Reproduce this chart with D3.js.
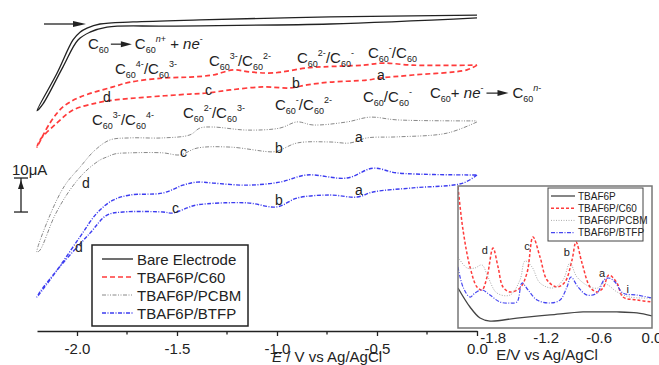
<!DOCTYPE html>
<html>
<head>
<meta charset="utf-8">
<script src="https://cdn.jsdelivr.net/npm/d3@7"></script>
<style>
body{margin:0;background:#fff;}
svg{display:block;font-family:Arial,"Liberation Sans",sans-serif;}
</style>
</head>
<body>
<svg width="659" height="365"></svg>
<script>
// cyclic voltammograms, [E (V vs Ag/AgCl), I (uA, curves stacked with offsets)]
var bareLoop = [[0,91.8],[-0.735,90.0],[-1.55,89.4],[-1.85,89.1],[-1.935,87.6],[-1.995,85.3],[-2.07,77.4],[-2.17,66.5],
  [-2.2,64.5],[-2.1,75.5],[-2.02,85.3],[-1.985,87.6],[-1.95,88.8],[-1.885,90.0],[-1.72,90.6],[-1.385,91.2],[-0.735,92.1],[0,92.6]];
var c60Loop = [[0,77.9],[-0.05,76.5],[-0.32,75.0],[-0.485,74.1],[-0.55,73.5],[-0.735,72.9],[-0.85,72.1],[-0.935,71.2],
  [-1.07,71.5],[-1.235,70.6],[-1.35,69.7],[-1.435,69.4],[-1.65,68.5],[-1.82,67.6],[-1.9,66.8],[-2.02,64.7],[-2.1,60.9],[-2.185,55.9],
  [-2.2,53.8],[-2.135,60.9],[-2.07,65.6],[-1.985,68.5],[-1.82,71.5],[-1.735,72.9],[-1.57,74.1],[-1.435,74.4],[-1.32,75.0],
  [-1.22,76.5],[-1.135,75.9],[-1.02,75.6],[-0.85,77.1],[-0.77,77.4],[-0.57,77.9],[-0.47,78.5],[-0.32,77.9],[0,77.9]];
var pcbmLoop = [[0,61.2],[-0.15,57.9],[-0.4,56.8],[-0.55,56.5],[-0.635,55.0],[-0.735,55.3],[-0.9,55.0],[-0.985,52.9],
  [-1.02,52.4],[-1.235,53.8],[-1.4,53.5],[-1.485,51.5],[-1.57,52.1],[-1.735,52.1],[-1.81,51.8],[-1.85,50.9],[-1.885,50.0],
  [-1.96,46.5],[-2.035,41.2],[-2.11,33.8],[-2.185,23.5],
  [-2.2,22.9],[-2.135,33.8],[-2.06,42.6],[-1.985,47.9],[-1.91,52.9],[-1.835,55.9],[-1.735,56.5],[-1.57,56.5],[-1.435,57.4],
  [-1.385,59.4],[-1.32,59.7],[-1.15,58.8],[-0.985,59.4],[-0.9,61.2],[-0.82,60.3],[-0.65,61.2],[-0.535,62.6],[-0.4,61.8],[0,61.5]];
var btfpLoop = [[0,45.6],[-0.07,43.2],[-0.32,41.8],[-0.52,40.6],[-0.6,39.1],[-0.735,39.7],[-0.9,38.8],[-1.0,36.2],
  [-1.15,37.4],[-1.4,36.8],[-1.45,35.9],[-1.52,34.4],[-1.57,34.7],[-1.77,34.7],[-1.85,33.8],[-1.935,28.5],[-2.07,19.7],[-2.185,11.2],
  [-2.2,9.7],[-2.1,17.6],[-1.985,27.4],[-1.9,34.4],[-1.82,38.2],[-1.735,39.7],[-1.57,40.3],[-1.47,42.6],[-1.4,43.5],[-1.32,43.2],
  [-1.15,42.6],[-0.985,43.5],[-0.85,45.6],[-0.65,44.7],[-0.52,47.6],[-0.4,46.2],[0,45.6]];

// inset DPV, [E, current (arb.)]
var dpvBare = [[-2.2,28.2],[-2.064,14.8],[-1.95,7.0],[-1.837,4.9],[-1.531,7.0],[-1.157,9.2],[-0.782,11.3],[-0.59,11.3],[-0.397,11.3],[-0.17,10.6],[0,8.5]];
var dpvC60 = [[-2.2,99.3],[-2.143,69.0],[-2.064,43.0],[-1.985,28.9],[-1.928,26.8],[-1.871,35.9],[-1.803,56.3],[-1.746,43.0],[-1.69,28.9],
  [-1.61,25.4],[-1.497,28.2],[-1.418,38.7],[-1.35,64.1],[-1.27,50.0],[-1.19,33.8],[-1.077,28.9],[-0.987,32.4],[-0.907,47.9],[-0.862,60.6],
  [-0.794,45.8],[-0.703,28.9],[-0.624,25.4],[-0.556,28.2],[-0.488,37.3],[-0.397,31.7],[-0.329,21.8],[-0.17,19.7],[0,18.3]];
var dpvPcbm = [[-2.2,50.0],[-2.098,42.3],[-2.007,42.3],[-1.928,44.4],[-1.86,35.9],[-1.758,24.6],[-1.61,23.2],[-1.497,33.8],[-1.44,47.2],
  [-1.361,43.0],[-1.27,31.7],[-1.123,28.2],[-1.009,33.8],[-0.93,45.8],[-0.851,35.9],[-0.703,28.9],[-0.612,28.2],[-0.556,31.7],[-0.499,30.3],
  [-0.397,25.4],[-0.25,21.8],[0,21.1]];
var dpvBtfp = [[-2.2,43.0],[-2.143,28.9],[-2.064,21.8],[-2.007,24.6],[-1.928,26.8],[-1.837,23.2],[-1.724,18.3],[-1.61,17.6],[-1.531,18.3],
  [-1.474,31.7],[-1.406,26.8],[-1.304,19.7],[-1.157,17.6],[-1.043,19.7],[-0.964,28.9],[-0.919,35.9],[-0.839,28.9],[-0.737,23.2],[-0.624,24.6],
  [-0.544,33.8],[-0.488,35.2],[-0.42,32.4],[-0.329,24.6],[-0.17,23.2],[0,21.1]];

var mainTicks = [-2.0, -1.5, -1.0, -0.5, 0.0];
var minorTicks = [-1.75, -1.25, -0.75, -0.25];
var insetTicks = [-1.8, -1.2, -0.6, 0.0];
var legendNames = ["Bare Electrode", "TBAF6P/C60", "TBAF6P/PCBM", "TBAF6P/BTFP"];
var insetNames = ["TBAF6P", "TBAF6P/C60", "TBAF6P/PCBM", "TBAF6P/BTFP"];

// peak letters: [letter, E, I]
var peakLetters = [["d",-1.87,67.1],["c",-1.36,69.1],["b",-0.925,71.2],["a",-0.5,73.5],
  ["d",-1.975,41.8],["c",-1.485,50.9],["b",-1.01,52.1],["a",-0.61,55.3],
  ["d",-2.01,22.9],["c",-1.525,34.4],["b",-1.01,36.8],["a",-0.61,39.7]];
var insetLetters = [["d",-1.93,52],["c",-1.45,55],["b",-1.0,51],["a",-0.6,36],["i",-0.29,25]];
var scaleBar = [34.7, 44.7];   // 10 uA

var ink = "#222";
var svg = d3.select("svg");

var x = d3.scaleLinear().domain([-2.2, 0]).range([37, 477]);
var y = d3.scaleLinear().domain([0, 100]).range([330, -10]);
var ix = d3.scaleLinear().domain([-2.2, 0]).range([458, 652]);
var iy = d3.scaleLinear().domain([0, 100]).range([328, 186]);

var styles = [
  {color: "#222", dash: null, w: 1.3},
  {color: "#ff3b3b", dash: "5,3", w: 1.7},
  {color: "#888", dash: "4,1.5,1,1.5,1,1.5", w: 1},
  {color: "#3c3cf0", dash: "4,1.5,1,1.5", w: 1.4}
];
var insetStyles = [
  {color: "#444", dash: null, w: 1.3},
  {color: "#ff3b3b", dash: "3,2", w: 1.5},
  {color: "#aaa", dash: "1,1.5", w: 1},
  {color: "#4646f0", dash: "4,1.5,1,1.5", w: 1.2}
];

var line = d3.line().x(function(d){ return x(d[0]); }).y(function(d){ return y(d[1]); })
  .curve(d3.curveCatmullRom.alpha(0.5));
var iline = d3.line().x(function(d){ return ix(d[0]); }).y(function(d){ return iy(d[1]); })
  .curve(d3.curveCatmullRom.alpha(0.5));

function stroke(sel, st) {
  sel.attr("fill", "none").attr("stroke", st.color).attr("stroke-width", st.w)
    .attr("stroke-dasharray", st.dash);
  return sel;
}

[bareLoop, c60Loop, pcbmLoop, btfpLoop].forEach(function(d, i){
  stroke(svg.append("path").attr("d", line(d)), styles[i]);
});

// x axis
var ax = svg.append("g").attr("transform", "translate(0,331)")
  .call(d3.axisBottom(x).tickValues(mainTicks).tickSize(5).tickSizeOuter(0)
    .tickFormat(function(d){ return d.toFixed(1); }));
ax.select(".domain").attr("stroke", ink).attr("stroke-width", 1.5);
ax.selectAll(".tick line").attr("stroke", ink).attr("stroke-width", 1.3);
ax.selectAll(".tick text").attr("font-size", 15).attr("fill", ink).attr("y", 12)
  .attr("font-family", "Arial, Liberation Sans, sans-serif");
ax.selectAll(".minor").data(minorTicks).enter().append("line")
  .attr("x1", function(d){ return x(d); }).attr("x2", function(d){ return x(d); })
  .attr("y1", 0).attr("y2", 3.5).attr("stroke", ink).attr("stroke-width", 1.3);

var xt = svg.append("text").attr("x", 272).attr("y", 362).attr("font-size", 15).attr("fill", ink);
xt.append("tspan").attr("font-style", "italic").text("E");
xt.append("tspan").text(" / V vs Ag/AgCl");

// top arrow
svg.append("line").attr("x1", 44).attr("x2", 76).attr("y1", 24).attr("y2", 24).attr("stroke", ink).attr("stroke-width", 1.3);
svg.append("path").attr("d", "M73,21L86,24L73,27Z").attr("fill", ink);

// scale bar
var sx = 21;
svg.append("line").attr("x1", sx).attr("x2", sx).attr("y1", y(scaleBar[1])).attr("y2", y(scaleBar[0]))
  .attr("stroke", ink).attr("stroke-width", 1.3);
svg.append("line").attr("x1", sx - 7).attr("x2", sx + 7).attr("y1", y(scaleBar[1])).attr("y2", y(scaleBar[1]))
  .attr("stroke", ink).attr("stroke-width", 1.3);
svg.append("line").attr("x1", sx - 7).attr("x2", sx + 7).attr("y1", y(scaleBar[0])).attr("y2", y(scaleBar[0]))
  .attr("stroke", ink).attr("stroke-width", 1.3);
svg.append("path").attr("d", "M" + (sx - 3) + "," + (y(scaleBar[1]) + 11) + "L" + sx + "," + (y(scaleBar[1]) + 2) +
  "L" + (sx + 3) + "," + (y(scaleBar[1]) + 11) + "Z").attr("fill", ink);
svg.append("text").attr("x", 12).attr("y", 175).attr("font-size", 15).attr("fill", ink).text("10\u03bcA");

// chemistry labels
function chem(x0, y0, parts) {
  var t = svg.append("text").attr("x", x0).attr("y", y0).attr("font-size", 15).attr("fill", ink);
  var off = 0;
  parts.forEach(function(p){
    var kind = p[1] || "";
    var shift = kind.charAt(0) === "b" ? 4 : kind.charAt(0) === "p" ? -7 : 0;
    var s = t.append("tspan").attr("dy", shift - off).text(p[0]);
    if (shift !== 0) s.attr("font-size", 9);
    if (kind.indexOf("i") >= 0) s.attr("font-style", "italic");
    off = shift;
  });
  return x0 + t.node().getComputedTextLength();
}
function arrow(xa, xb, ya) {
  svg.append("line").attr("x1", xa).attr("x2", xb - 8).attr("y1", ya).attr("y2", ya).attr("stroke", ink).attr("stroke-width", 1.2);
  svg.append("path").attr("d", "M" + (xb - 11) + "," + (ya - 3) + "L" + xb + "," + ya + "L" + (xb - 11) + "," + (ya + 3) + "Z").attr("fill", ink);
}
var C = ["C"], S = ["60", "b"];

var e1 = chem(x(-1.945), y(82.6), [C, S]);
arrow(e1 + 2, e1 + 23, y(82.6) - 5);
chem(e1 + 26, y(82.6), [C, S, ["n", "pi"], ["+", "p"], ["\u00a0+ "], ["ne", "i"], ["-", "p"]]);

chem(x(-1.81), y(75.3), [C, S, ["4-", "p"], ["/"], C, S, ["3-", "p"]]);
chem(x(-1.34), y(77.6), [C, S, ["3-", "p"], ["/"], C, S, ["2-", "p"]]);
chem(x(-0.9), y(78.5), [C, S, ["2-", "p"], ["/"], C, S, ["-", "p"]]);
chem(x(-0.545), y(80.0), [C, S, ["-", "p"], ["/"], C, S]);
chem(x(-1.925), y(60.3), [C, S, ["3-", "p"], ["/"], C, S, ["4-", "p"]]);
chem(x(-1.47), y(62.4), [C, S, ["2-", "p"], ["/"], C, S, ["3-", "p"]]);
chem(x(-1.01), y(64.7), [C, S, ["-", "p"], ["/"], C, S, ["2-", "p"]]);
chem(x(-0.57), y(67.1), [C, S, ["/"], C, S, ["-", "p"]]);

var e2 = chem(x(-0.235), y(68.2), [C, S, ["+\u00a0"], ["ne", "i"], ["-", "p"]]);
arrow(e2 + 3, e2 + 25, y(68.2) - 5);
chem(e2 + 29, y(68.2), [C, S, ["n", "pi"], ["-", "p"]]);

svg.selectAll(".pk").data(peakLetters).enter().append("text")
  .attr("x", function(d){ return x(d[1]); }).attr("y", function(d){ return y(d[2]); })
  .attr("font-size", 14).attr("fill", ink).text(function(d){ return d[0]; });

// main legend
var lg = svg.append("g");
lg.append("rect").attr("x", 92).attr("y", 245).attr("width", 156).attr("height", 81)
  .attr("fill", "#fff").attr("stroke", ink).attr("stroke-width", 1.5);
legendNames.forEach(function(n, i){
  var yy = 259 + i * 18;
  stroke(lg.append("line").attr("x1", 102).attr("x2", 133).attr("y1", yy).attr("y2", yy), styles[i]);
  lg.append("text").attr("x", 137).attr("y", yy + 5.5).attr("font-size", 15).attr("fill", ink).text(n);
});

// inset
var ins = svg.append("g");
ins.append("rect").attr("x", 458).attr("y", 186).attr("width", 194).attr("height", 142).attr("fill", "#fff");
ins.append("clipPath").attr("id", "ic").append("rect").attr("x", 458).attr("y", 186).attr("width", 194).attr("height", 142);
var ic = ins.append("g").attr("clip-path", "url(#ic)");
[dpvBare, dpvC60, dpvPcbm, dpvBtfp].forEach(function(d, i){
  stroke(ic.append("path").attr("d", iline(d)), insetStyles[i]);
});
ins.append("rect").attr("x", 458).attr("y", 186).attr("width", 194).attr("height", 142)
  .attr("fill", "none").attr("stroke", "#777").attr("stroke-width", 1.5);

ins.selectAll(".il").data(insetLetters).enter().append("text")
  .attr("x", function(d){ return ix(d[1]); }).attr("y", function(d){ return iy(d[2]); })
  .attr("font-size", 11).attr("fill", ink).text(function(d){ return d[0]; });

var il = ins.append("g");
il.append("rect").attr("x", 548).attr("y", 188).attr("width", 95).attr("height", 53)
  .attr("fill", "#fff").attr("stroke", "#444").attr("stroke-width", 1);
insetNames.forEach(function(n, i){
  var yy = 196 + i * 12.2;
  stroke(il.append("line").attr("x1", 551).attr("x2", 575).attr("y1", yy).attr("y2", yy), insetStyles[i]);
  il.append("text").attr("x", 578).attr("y", yy + 3.5).attr("font-size", 10).attr("fill", ink).text(n);
});

ins.selectAll(".it").data(insetTicks).enter().append("text")
  .attr("x", function(d){ return ix(d); }).attr("y", 343).attr("text-anchor", "middle")
  .attr("font-size", 15).attr("fill", ink).text(function(d){ return d.toFixed(1); });
ins.append("text").attr("x", 547).attr("y", 360).attr("text-anchor", "middle")
  .attr("font-size", 15).attr("fill", ink).text("E/V vs Ag/AgCl");
</script>
</body>
</html>
